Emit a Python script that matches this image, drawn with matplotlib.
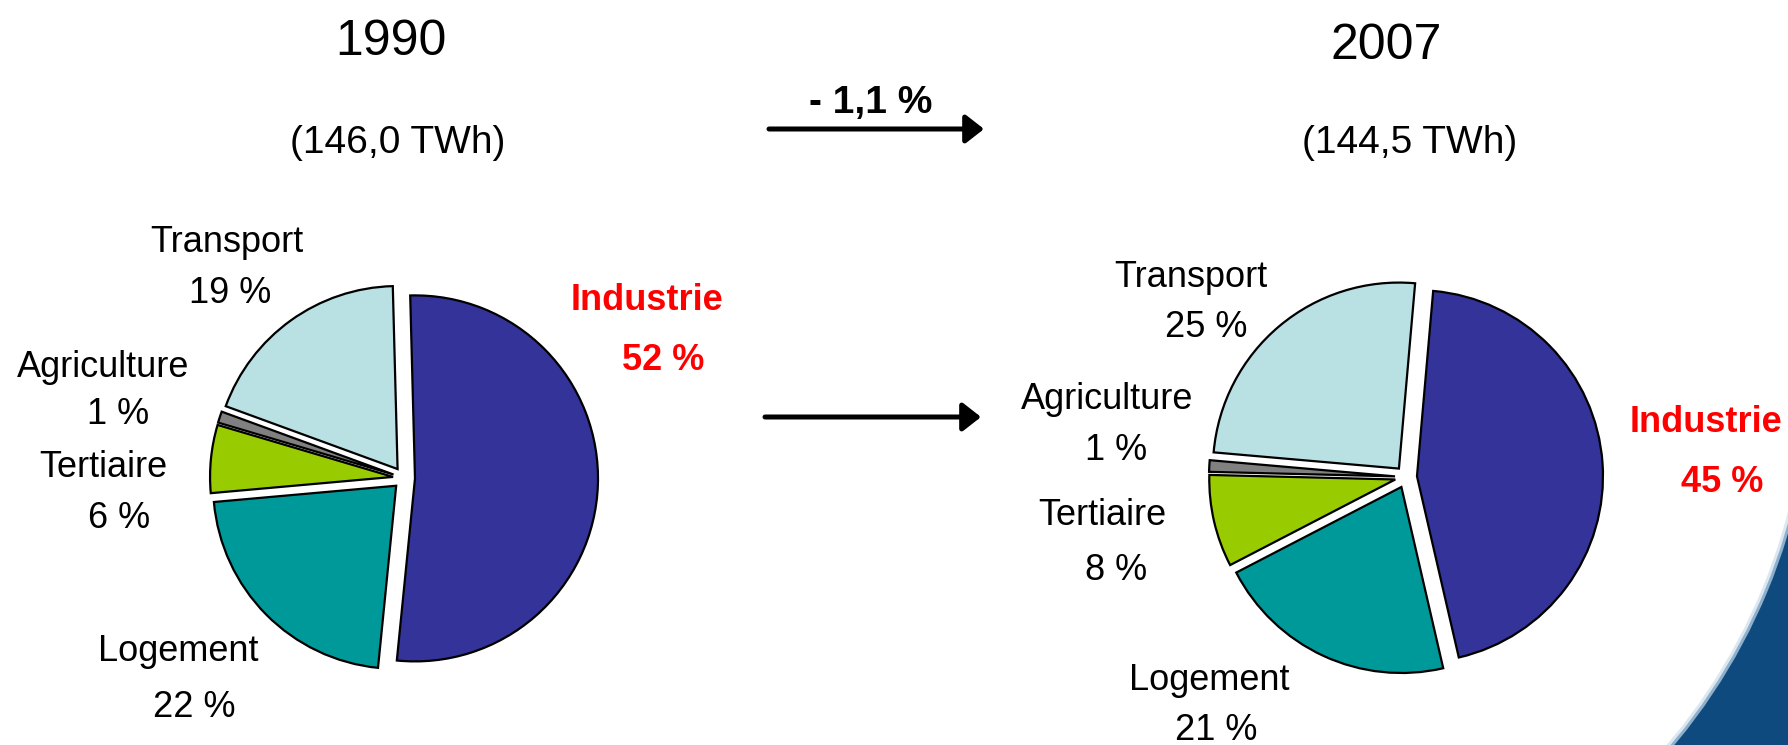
import matplotlib.pyplot as plt
from matplotlib.patches import Rectangle, Wedge

# sector shares (%), clockwise from the top
sectors = ['Industrie', 'Logement', 'Tertiaire', 'Agriculture', 'Transport']
shares_1990 = [52, 22, 6, 1, 19]
shares_2007 = [45, 21, 8, 1, 25]
years = ['1990', '2007']
totals_twh = [146.0, 144.5]
change_pct = -1.1

colors = ['#333399', '#009999', '#99cc00', '#808080', '#b9e0e3']

W, H = 1788, 745
plt.rcParams['font.family'] = ['Liberation Sans', 'DejaVu Sans']

fig = plt.figure(figsize=(W / 100, H / 100), dpi=100)
ax = fig.add_axes([0, 0, 1, 1])


def fr(v):
    # french decimal comma
    return f"{v}".replace('.', ',')


def label(x, y_cap, s, size, **kw):
    """place text by the centre of its capitals, in top-down pixel coords"""
    em = size * 100 / 72
    base = y_cap + 0.358 * em
    ax.text(x, H - base, s, ha='center', va='baseline', fontsize=size, **kw)


# decorative swoosh in the lower right corner (ring outside a big circle)
clip = Rectangle((1560, -10), 260, 320, fc='none', ec='none')
ax.add_patch(clip)
for r_in, c in [(590, '#dbe7f1'), (593, '#8fb0cc'), (596, '#0e4a7d')]:
    ring = Wedge((1217, H - 363), 1200, 0, 360, width=1200 - r_in,
                 color=c, lw=0, zorder=0)
    ax.add_patch(ring)
    ring.set_clip_path(clip)

wedge_kw = dict(edgecolor='black', linewidth=1.6)
explode = [11] * len(sectors)

ax.pie(shares_1990, colors=colors, startangle=91.5, counterclock=False,
       center=(404, H - 478), radius=183, explode=explode,
       wedgeprops=wedge_kw, frame=True)
ax.pie(shares_2007, colors=colors, startangle=85, counterclock=False,
       center=(1406, H - 477), radius=186, explode=explode,
       wedgeprops=wedge_kw, frame=True)

ax.set_xlim(0, W)
ax.set_ylim(0, H)
ax.set_aspect('equal')
ax.axis('off')

# headers
label(391, 37, years[0], 36)
label(398, 139, f"({fr(totals_twh[0])} TWh)", 28)
label(1386, 41, years[1], 36)
label(1410, 139, f"({fr(totals_twh[1])} TWh)", 28)
label(871, 99, f"- {fr(abs(change_pct))} %", 28, fontweight='bold')

arrow_kw = dict(arrowstyle='-|>,head_length=0.55,head_width=0.43', lw=3.6,
                color='black', shrinkA=0, shrinkB=0, mutation_scale=20)
ax.annotate('', xy=(984, H - 129), xytext=(769, H - 129), arrowprops=arrow_kw)
ax.annotate('', xy=(981, H - 417), xytext=(765, H - 417), arrowprops=arrow_kw)

# sector labels
pos_1990 = {'Transport': ((227, 239), (230, 290)),
            'Agriculture': ((103, 364), (118, 411)),
            'Tertiaire': ((103, 464), (119, 515)),
            'Logement': ((178, 648), (194, 704)),
            'Industrie': ((647, 297), (663, 357))}
pos_2007 = {'Transport': ((1191, 274), (1206, 324)),
            'Agriculture': ((1107, 396), (1116, 447)),
            'Tertiaire': ((1102, 512), (1116, 567)),
            'Logement': ((1209, 677), (1216, 727)),
            'Industrie': ((1706, 419), (1722, 479))}

for shares, pos in [(shares_1990, pos_1990), (shares_2007, pos_2007)]:
    for name, v in zip(sectors, shares):
        (x1, y1), (x2, y2) = pos[name]
        if name == 'Industrie':
            kw = dict(color='red', fontweight='bold')
        else:
            kw = dict(color='black')
        label(x1, y1, name, 26, **kw)
        label(x2, y2, f"{v} %", 26, **kw)

fig.savefig('out.png', dpi=100)
